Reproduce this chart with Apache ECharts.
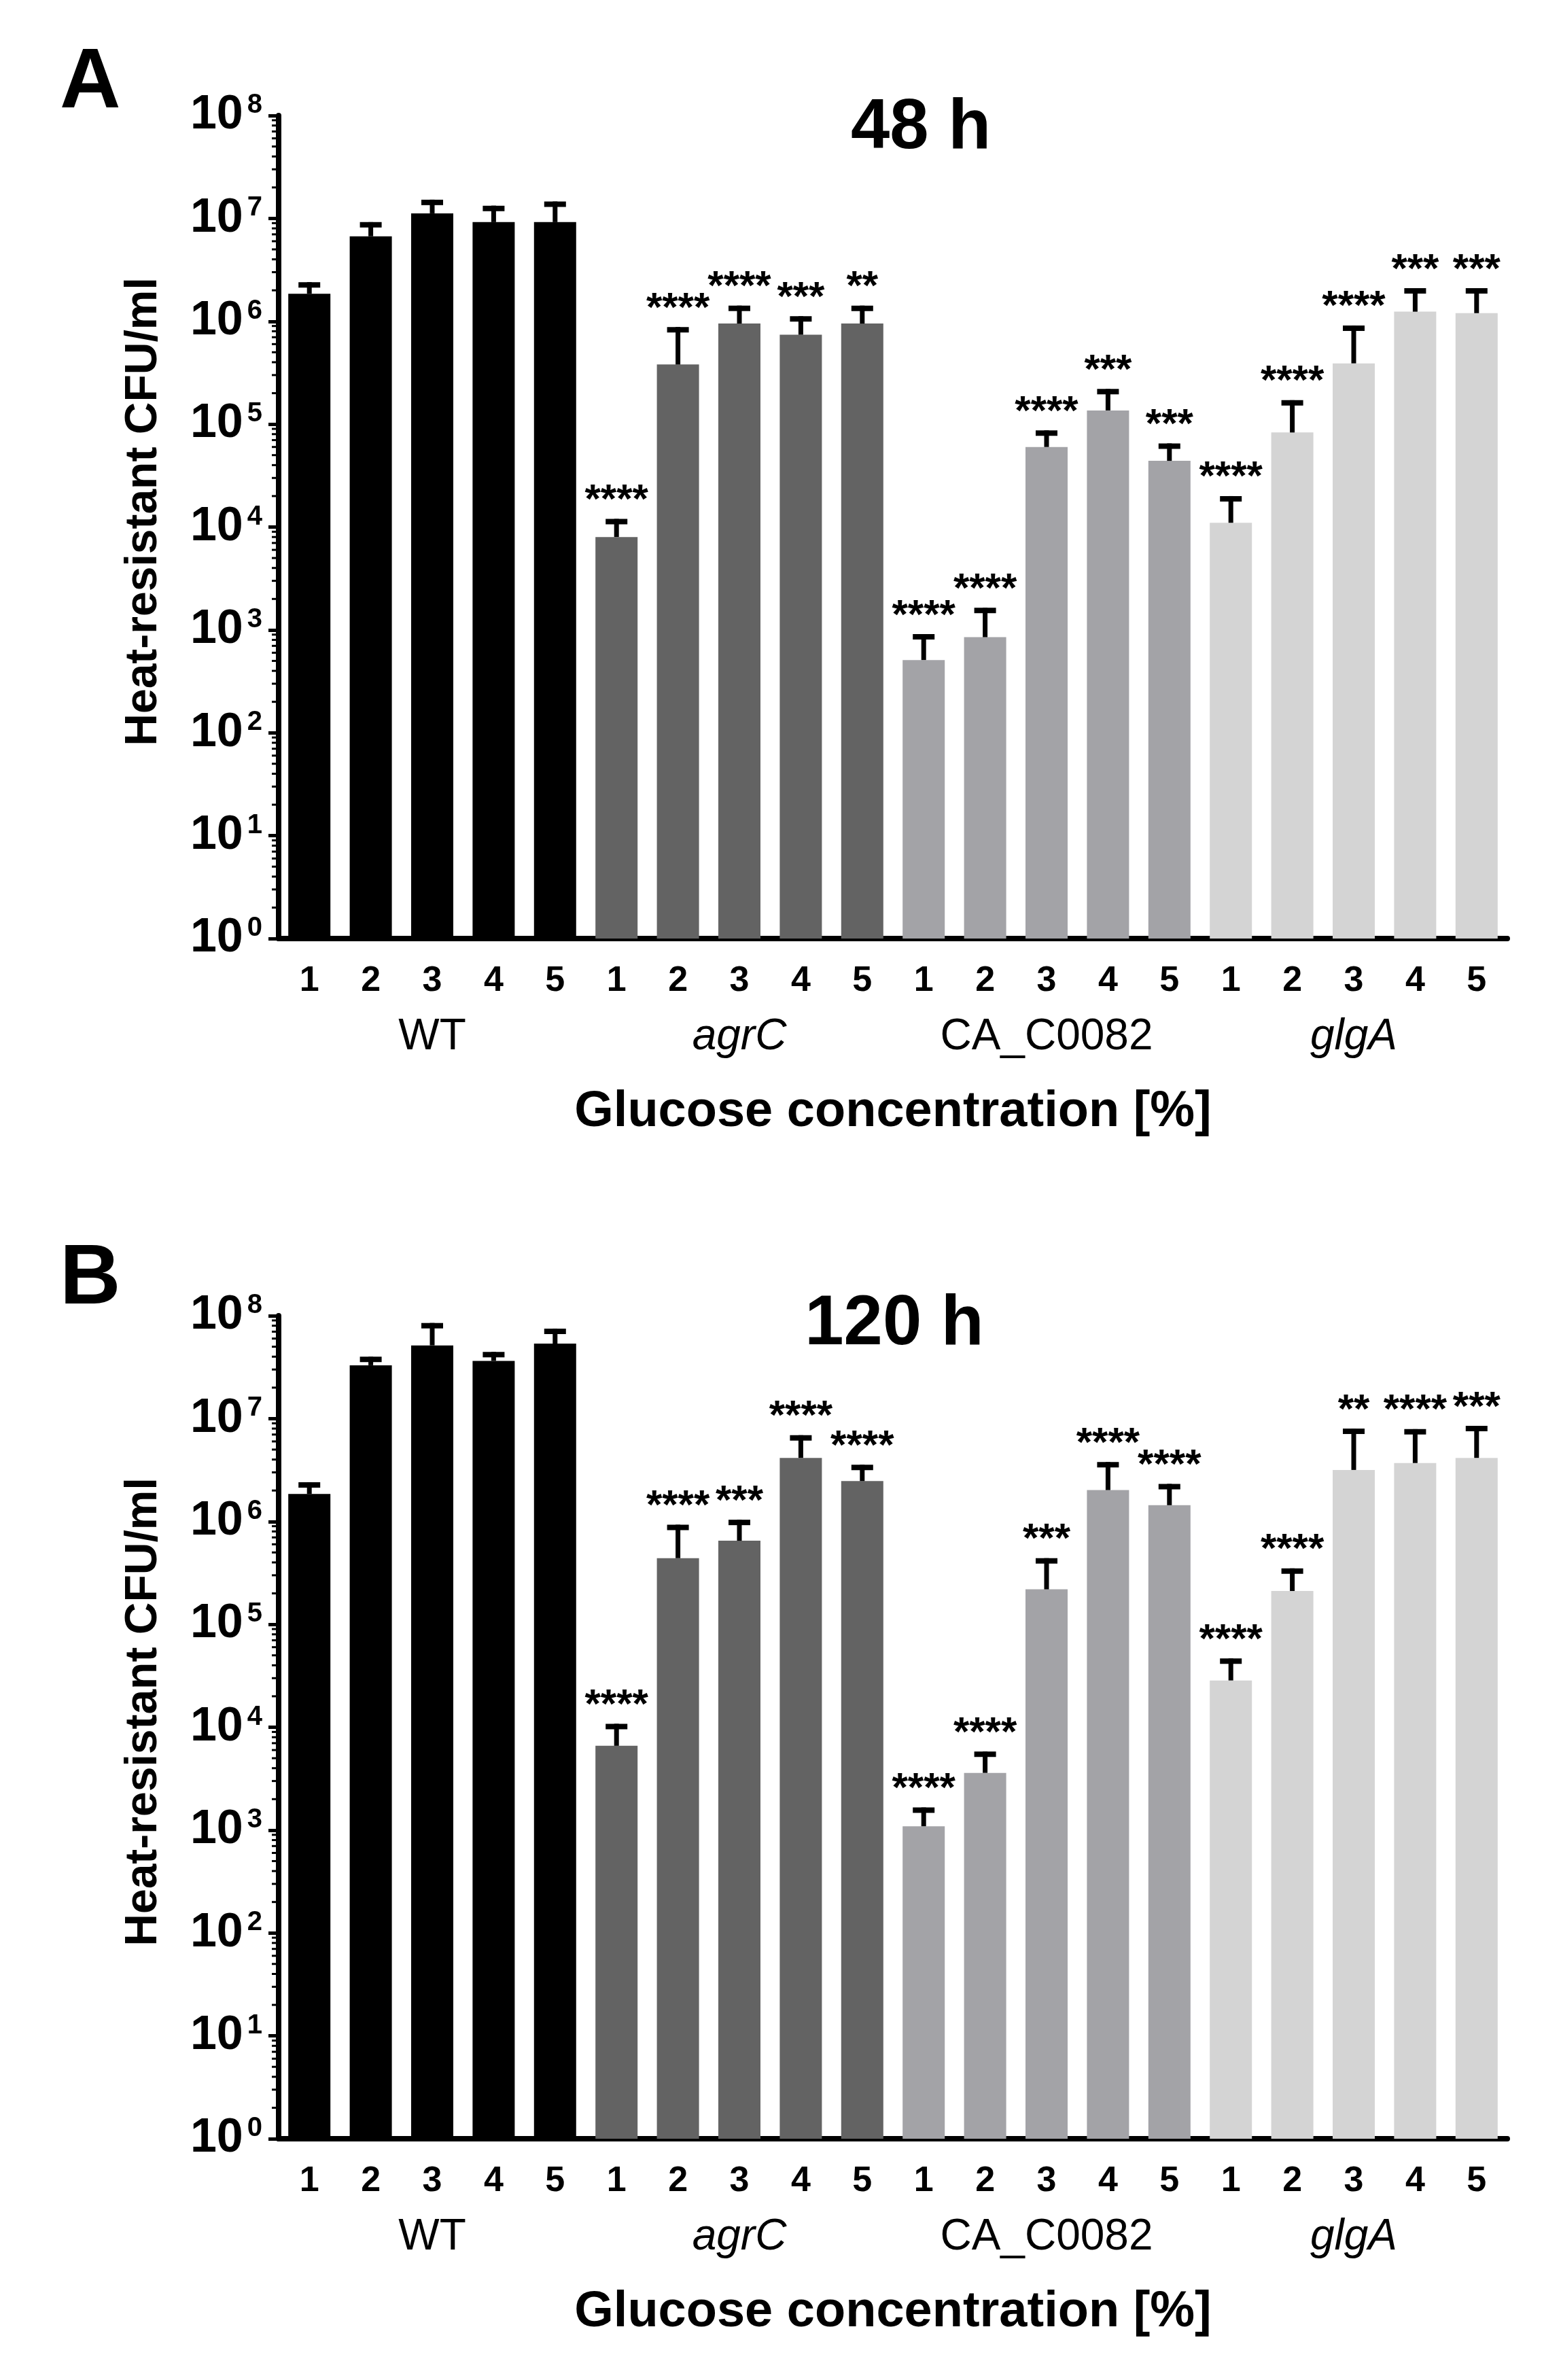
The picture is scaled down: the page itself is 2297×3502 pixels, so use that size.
<!DOCTYPE html>
<html>
<head>
<meta charset="utf-8">
<script src="https://cdn.jsdelivr.net/npm/echarts@6/dist/echarts.min.js"></script>
<style type="text/css">
  html, body { margin: 0; background: #fff; }
  #chart { width: 2297px; height: 3502px; }
</style>
</head>
<body>
<div id="chart"></div>
<script>
  // strains (groups of five bars) and glucose concentration per bar
  var groups = ['WT', 'agrC', 'CA_C0082', 'glgA'];
  var glucose = ['1','2','3','4','5', '1','2','3','4','5', '1','2','3','4','5', '1','2','3','4','5'];

  // 48 h: mean and mean + SD (top of the error bar), CFU/ml
  var mean48 = [1.85e6, 6.7e6, 1.12e7, 9.2e6, 9.2e6,
                8.0e3, 3.8e5, 9.5e5, 7.4e5, 9.5e5,
                5.1e2, 8.5e2, 6.0e4, 1.36e5, 4.4e4,
                1.1e4, 8.3e4, 3.9e5, 1.24e6, 1.2e6];
  var upper48 = [2.4e6, 9.2e6, 1.52e7, 1.33e7, 1.46e7,
                 1.2e4, 8.8e5, 1.42e6, 1.12e6, 1.42e6,
                 9.1e2, 1.64e3, 8.7e4, 2.2e5, 6.5e4,
                 2.0e4, 1.71e5, 9.1e5, 2.1e6, 2.1e6];
  var stars48 = ['', '', '', '', '',
                 '****', '****', '****', '***', '**',
                 '****', '****', '****', '***', '***',
                 '****', '****', '****', '***', '***'];

  // 120 h
  var mean120 = [1.85e6, 3.3e7, 5.15e7, 3.64e7, 5.36e7,
                 6.6e3, 4.4e5, 6.5e5, 4.15e6, 2.47e6,
                 1.09e3, 3.6e3, 2.19e5, 2.02e6, 1.44e6,
                 2.85e4, 2.11e5, 3.17e6, 3.7e6, 4.15e6];
  var upper120 = [2.41e6, 4.0e7, 8.5e7, 4.45e7, 7.5e7,
                  1.08e4, 9.3e5, 1.04e6, 6.9e6, 3.56e6,
                  1.66e3, 5.8e3, 4.4e5, 3.78e6, 2.32e6,
                  4.66e4, 3.5e5, 8.0e6, 7.9e6, 8.5e6];
  var stars120 = ['', '', '', '', '',
                  '****', '****', '***', '****', '****',
                  '****', '****', '***', '****', '****',
                  '****', '****', '**', '****', '***'];

  var groupColors = ['#000000', '#636363', '#a3a3a7', '#d4d4d4'];
  var FONT = '"Liberation Sans", Arial, Helvetica, sans-serif';

  // minor ticks of the log axis (2..9 in every decade)
  var minorTicks = [];
  for (var k = 0; k < 8; k++) {
    for (var m = 2; m <= 9; m++) {
      minorTicks.push([0, m * Math.pow(10, k)]);
    }
  }

  var gridTops = [170, 1936];
  var plotHeight = 1211;

  function errorBarRender(stars) {
    return function(params, api) {
      var i = api.value(0);
      var base = api.coord([i, api.value(1)]);
      var top = api.coord([i, api.value(2)]);
      var cx = base[0];
      return {
        type: 'group',
        children: [
          { type: 'line', shape: { x1: cx, y1: base[1], x2: cx, y2: top[1] },
            style: { stroke: '#000', lineWidth: 7 } },
          { type: 'rect', shape: { x: cx - 16, y: top[1], width: 32, height: 8 },
            style: { fill: '#000' } },
          { type: 'text', x: cx, y: top[1] - 26,
            style: { text: stars[params.dataIndex], fill: '#000', font: 'bold 60px ' + FONT,
                     align: 'center', verticalAlign: 'middle',
                     textAlign: 'center', textVerticalAlign: 'middle' } }
        ]
      };
    };
  }

  function minorTickRender(params, api) {
    var p = api.coord([0, api.value(1)]);
    var x = params.coordSys.x;
    return { type: 'line', shape: { x1: x - 2, y1: p[1], x2: x - 10, y2: p[1] },
             style: { stroke: '#000', lineWidth: 3 } };
  }

  var grid = [], xAxis = [], yAxis = [], series = [];
  var means = [mean48, mean120], uppers = [upper48, upper120], starSets = [stars48, stars120];

  for (var p = 0; p < 2; p++) {
    grid.push({ left: 410, top: gridTops[p], width: 1808, height: plotHeight });

    // glucose concentration ticks
    xAxis.push({
      type: 'category', gridIndex: p, data: glucose,
      axisLine: { lineStyle: { color: '#000', width: 8 } },
      axisTick: { alignWithLabel: true, length: 22, lineStyle: { color: '#000', width: 5 } },
      axisLabel: { color: '#000', fontSize: 52, fontWeight: 'bold', fontFamily: FONT,
                   margin: 63, verticalAlign: 'middle', interval: 0 },
      name: 'Glucose concentration [%]', nameLocation: 'middle', nameGap: 256,
      nameTextStyle: { color: '#000', fontSize: 74, fontWeight: 'bold', fontFamily: FONT,
                       verticalAlign: 'middle' }
    });
    // strain names under each block of five
    xAxis.push({
      type: 'category', gridIndex: p, data: groups, position: 'bottom',
      axisLine: { show: false }, axisTick: { show: false },
      axisLabel: {
        color: '#000', fontSize: 64, fontFamily: FONT, margin: 145, verticalAlign: 'middle', interval: 0,
        formatter: function(v) {
          return (v === 'agrC' || v === 'glgA') ? '{i|' + v + '}' : v;
        },
        rich: { i: { fontStyle: 'italic', fontSize: 64, fontFamily: FONT, color: '#000' } }
      }
    });

    yAxis.push({
      type: 'log', logBase: 10, gridIndex: p, min: 1, max: 1e8,
      axisLine: { show: true, lineStyle: { color: '#000', width: 8 } },
      axisTick: { show: true, length: 15, lineStyle: { color: '#000', width: 5 } },
      splitLine: { show: false },
      axisLabel: {
        margin: 24, color: '#000', fontSize: 70, fontWeight: 'bold', fontFamily: FONT,
        formatter: function(v) {
          return '{b|10}{s|' + Math.round(Math.log(v) / Math.LN10) + '}';
        },
        rich: {
          b: { fontSize: 70, fontWeight: 'bold', fontFamily: FONT, color: '#000' },
          s: { fontSize: 40, fontWeight: 'bold', fontFamily: FONT, color: '#000',
               verticalAlign: 'top', padding: [0, 0, 0, 6] }
        }
      }
    });

    series.push({
      type: 'bar', xAxisIndex: 2 * p, yAxisIndex: p, data: means[p], barWidth: 62,
      itemStyle: { color: function(params) { return groupColors[Math.floor(params.dataIndex / 5)]; } },
      z: 2
    });

    var errData = [];
    for (var i = 0; i < means[p].length; i++) {
      errData.push([i, means[p][i], uppers[p][i]]);
    }
    series.push({
      type: 'custom', xAxisIndex: 2 * p, yAxisIndex: p, data: errData,
      renderItem: errorBarRender(starSets[p]), z: 3
    });
    series.push({
      type: 'custom', xAxisIndex: 2 * p, yAxisIndex: p, data: minorTicks,
      renderItem: minorTickRender, z: 4
    });
  }

  function label(text, x, y, size, align, extra) {
    var el = {
      type: 'text', x: x, y: y,
      style: { text: text, fill: '#000', font: 'bold ' + size + 'px ' + FONT,
               align: align, verticalAlign: 'middle', textAlign: align, textVerticalAlign: 'middle' }
    };
    if (extra) { el.rotation = extra; }
    return el;
  }

  var chart = echarts.init(document.getElementById('chart'));
  chart.setOption({
    animation: false,
    backgroundColor: '#fff',
    grid: grid,
    xAxis: xAxis,
    yAxis: yAxis,
    series: series,
    graphic: [
      label('A', 88, 124, 124, 'left'),
      label('B', 88, 1884, 124, 'left'),
      label('48 h', 1355, 190, 103, 'center'),
      label('120 h', 1316, 1950, 103, 'center'),
      label('Heat-resistant CFU/ml', 212, 753, 66, 'center', Math.PI / 2),
      label('Heat-resistant CFU/ml', 212, 2519, 66, 'center', Math.PI / 2)
    ]
  });
</script>
</body>
</html>
